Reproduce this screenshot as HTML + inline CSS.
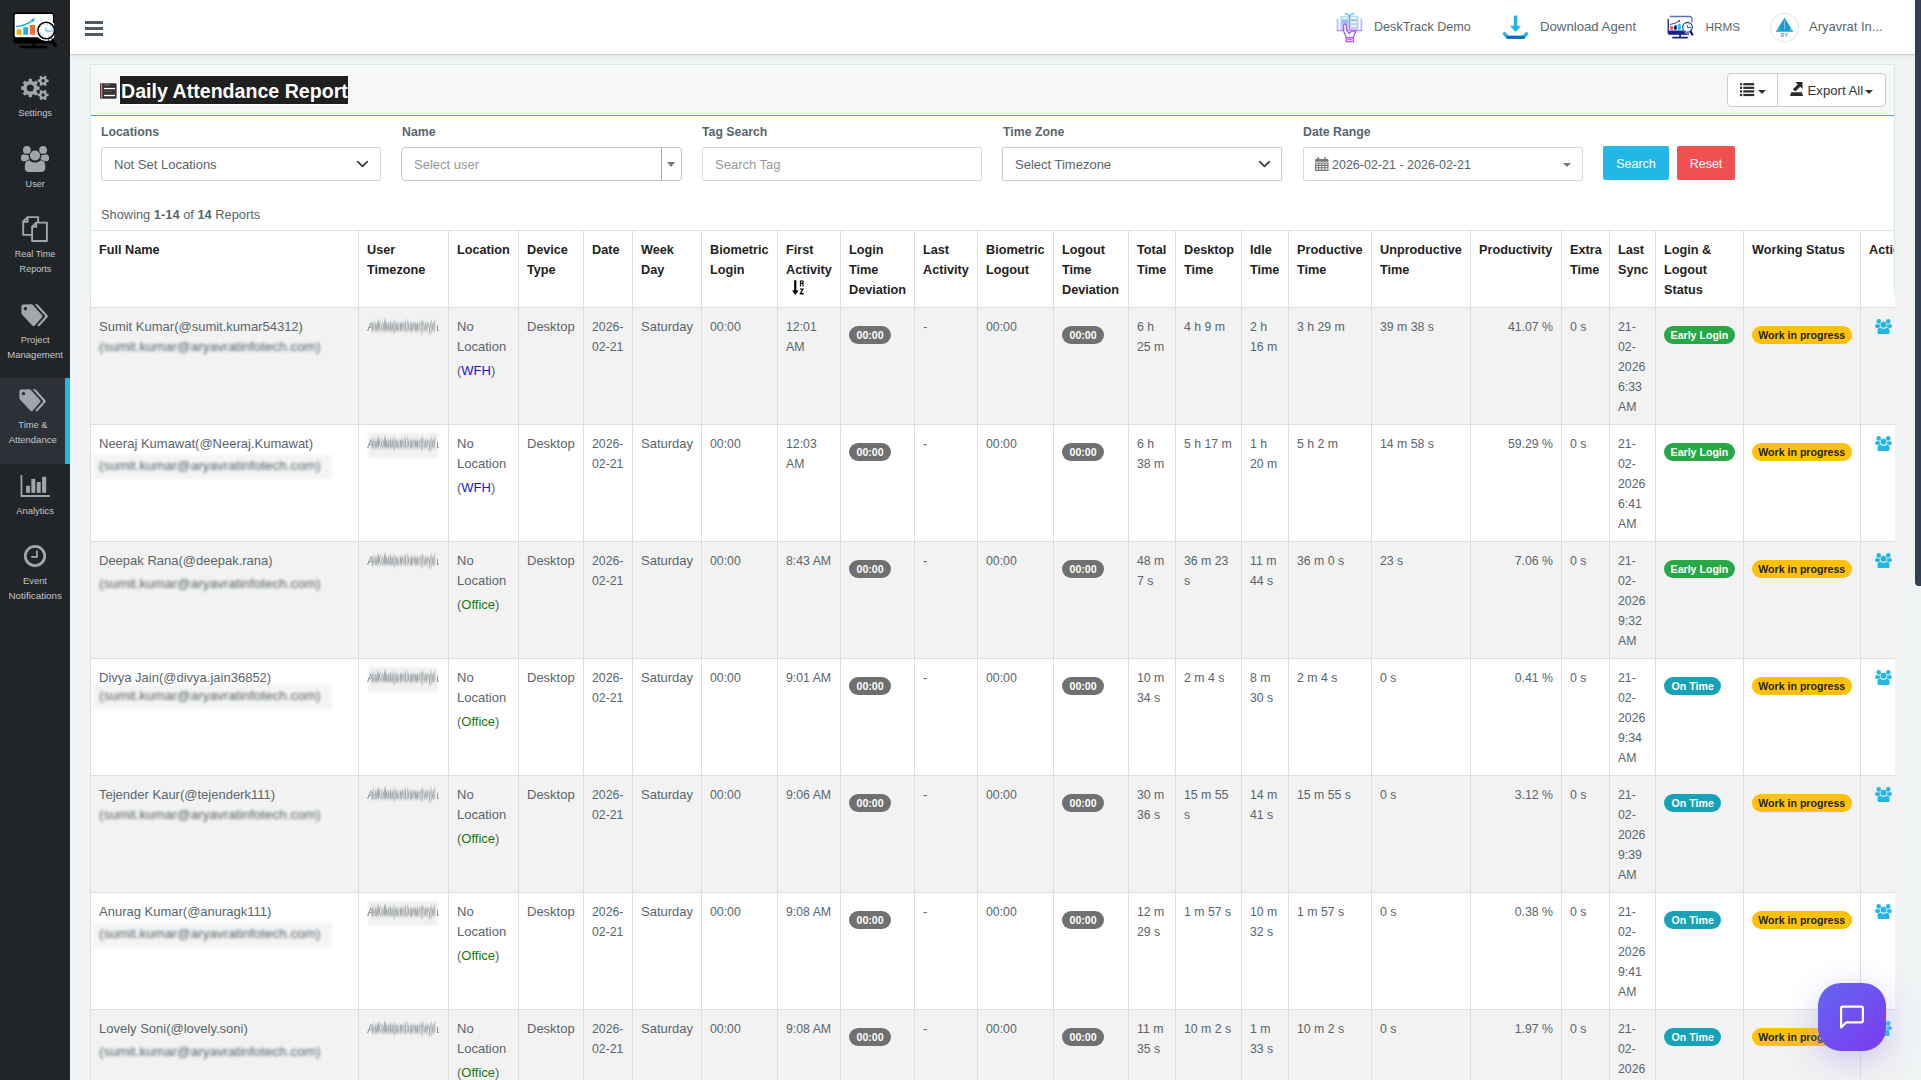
<!DOCTYPE html>
<html lang="en">
<head>
<meta charset="utf-8">
<title>Daily Attendance Report</title>
<style>
*{box-sizing:border-box;margin:0;padding:0}
html,body{width:1921px;height:1080px;overflow:hidden}
body{font-family:"Liberation Sans",sans-serif;font-size:13px;color:#58666e;background:#f0f3f4;position:relative;line-height:20px}
svg{display:block}
.abs{position:absolute}
/* sidebar */
#side{position:absolute;left:0;top:0;width:70px;height:1080px;background:#212529}
#side .it{position:absolute;left:0;width:70px;text-align:center;color:#c3c5ca;font-size:9.6px;line-height:15px}
#side .it svg{margin:0 auto}
#side .act{position:absolute;left:0;top:378px;width:70px;height:86px;background:#2c3037;border-right:5px solid #23b7e5}
/* header */
#top{position:absolute;left:70px;top:0;width:1845px;height:54px;background:#fff;box-shadow:0 1px 1px rgba(0,0,0,.12),0 2px 3px rgba(0,0,0,.05)}
#top .ti{position:absolute;top:17px;font-size:13px;line-height:20px;color:#58666e;white-space:nowrap}
/* scrollbar */
#sb{position:absolute;left:1915px;top:0;width:6px;height:1080px;background:#f0f3f4}
#sb i{position:absolute;left:0;top:0;width:8px;height:586px;background:#323f52;border-radius:0 0 0 4px}
/* panel */
#panel{position:absolute;left:90px;top:64px;width:1805px;height:1030px;background:#fff;border:1px solid #dee5e7;border-bottom:0;border-right:0;overflow:hidden}
#phead{position:absolute;left:0;top:0;width:1803px;height:51px;background:#f6f8f8;border-bottom:1px solid #23b7e5}
#title{position:absolute;left:29px;top:11px;height:28px;line-height:30px;background:#1f1f1f;color:#fff;font-weight:bold;font-size:19.6px;box-shadow:0 -1px 0 rgba(255,255,255,.95),0 1px 0 rgba(255,255,255,.95),-1px 0 0 rgba(255,255,255,.95);white-space:nowrap;padding:0 0 0 1px}
.lbl{position:absolute;top:57px;font-weight:bold;font-size:12.3px;line-height:20px;color:#58666e;white-space:nowrap}
.inp{position:absolute;top:82px;height:34px;width:280px;border:1px solid #cfdadd;border-radius:2px;background:#fff;font-size:13px;line-height:34px;padding-left:12px;color:#58666e;white-space:nowrap}
.ph{color:#999}
.btn{position:absolute;top:81px;height:34px;border-radius:2px;color:#fff;font-size:12.5px;line-height:36.5px;text-align:center}
#showing{position:absolute;left:10px;top:140px;font-size:12.85px;line-height:20px;white-space:nowrap}
#showing b{color:#58666e}
#bgrp{position:absolute;left:1636px;top:8px;width:159px;height:34px;border:1px solid #ccc;border-radius:4px;background:#fff}
#bgrp .b1{position:absolute;left:0;top:0;width:50px;height:32px;border-right:1px solid #ccc}
#bgrp .b2{position:absolute;left:50px;top:0;width:108px;height:33px}
#bgrp .b2 span{position:absolute;left:29.500px;top:7px;font-size:13.200px;line-height:20px;color:#333;white-space:nowrap}
.caret{position:absolute;width:0;height:0;border-style:solid;border-width:4px 4px 0;border-color:#333 transparent transparent}
#chat{position:absolute;left:1818px;top:983px;width:68px;height:68px;border-radius:23px;background:linear-gradient(135deg,#6366f1 0%,#7c3aed 100%);box-shadow:0 8px 32px rgba(99,90,241,.3),0 0 22px rgba(255,255,255,.3)}
#chat svg{position:absolute;left:21px;top:21px}
/* table */
table.dt{position:absolute;left:-1px;top:165px;border-collapse:separate;border-spacing:0;table-layout:fixed;width:1870px}
.dt th,.dt td{border-left:1px solid #ddd;border-top:1px solid #ddd;padding:9px 4px 7px 8px;vertical-align:top;text-align:left;font-size:13px;line-height:20px;white-space:nowrap;overflow:hidden}
.dt th{font-weight:bold;color:#222;font-size:12.7px;height:77px;border-top-color:#dee5e7;background:#fff}
.dt td{height:117px;color:#58666e}
.dt tr.odd td{background:#f2f2f2}
.dt tr.even td{background:#fff}
.dt td.n{font-size:12.3px}
.dt td.r{text-align:right;padding-right:8px}
.dt td.act{padding-left:13.500px;padding-top:10.500px}
.uic{fill:#23b7e5}
.bdg{display:inline-block;height:18px;line-height:18px;border-radius:9px;padding:0 7px;font-weight:bold;font-size:10.6px;color:#fff;margin-top:9px;vertical-align:top}
.bdg.s{background:#707070;padding:0 7.5px}
.bdg.g{background:#28a745;padding:0 6.600px}
.bdg.t{background:#17a2b8;padding:0 7.600px}
.bdg.y{background:#ffc107;color:#212529;padding:0 6.300px}
.loc{margin-top:4px}
.wfh{color:#1a10e8}
.off{color:#137a0b}
.em{height:20px;position:relative;white-space:nowrap}
.em span{display:inline-block;color:#48545b;filter:blur(1.450px);opacity:.95;font-size:13.5px;position:relative}
.em.bx:before{content:"";position:absolute;left:-7px;top:-1px;width:240px;height:24px;background:rgba(0,0,0,.045);filter:blur(1.5px)}
.tz{color:#7b858b;white-space:nowrap;position:relative;height:20px}
.tz .a1{position:absolute;left:0;top:0;width:4px;overflow:hidden;opacity:.85}
.tz .a2{position:absolute;left:69.500px;top:0;width:2.500px;overflow:hidden;direction:rtl;opacity:.85}
.tzb{position:absolute;left:3.800px;top:0px;width:200px;height:20px;transform-origin:0 50%;transform:scale(.328,1.12);filter:blur(1.35px);color:#4a545b;font-size:13px;font-weight:bold;letter-spacing:0;white-space:nowrap;opacity:.7}
.tz.bx:before{content:"";position:absolute;left:1px;top:-1px;width:70px;height:25px;background:rgba(0,0,0,.055);filter:blur(1.2px)}
.sorti{margin:0 0 0 6px}
</style>
</head>
<body>
<svg width="0" height="0" style="position:absolute">
<defs>
<symbol id="i-users" viewBox="20.6 145.8 28.8 26.6">
<circle cx="26.9" cy="149.9" r="3.9"/><circle cx="43.1" cy="149.9" r="3.9"/>
<path d="M20.9,158.3 C20.9,155.6 22,154.3 24,154.3 C25,155 26.2,155.2 28.6,154.9 C28.6,157 29,158.2 29.9,159.3 C28.3,159.4 26.9,160.1 26.1,161.2 H23.6 C21.9,161.2 20.9,160.3 20.9,158.300Z"/>
<path d="M49.1,158.3 C49.1,155.6 48,154.3 46,154.3 C45,155 43.8,155.2 41.4,154.9 C41.4,157 41,158.2 40.1,159.3 C41.7,159.4 43.1,160.1 43.9,161.2 H46.4 C48.1,161.2 49.1,160.300 49.1,158.300Z"/>
<circle cx="35" cy="155.5" r="5.1"/>
<path d="M24.8,168.3 V165.6 C24.8,162.4 26.6,160.300 29.3,160.2 C30.8,161.700 32.8,162.5 35,162.5 C37.2,162.5 39.2,161.700 40.7,160.2 C43.4,160.300 45.2,162.4 45.2,165.6 V168.3 C45.2,170.6 43.7,172.1 41.5,172.1 H28.5 C26.3,172.1 24.8,170.6 24.8,168.300Z"/>
</symbol>
<symbol id="i-sort" viewBox="0 0 14 16">
<path d="M2.300 .2h2.400v10.400h2.300l-3.500 4.300L0 10.600h2.300z"/>
<path d="M8.500 .4h3.900v6H8.500zM9.700 1.600v1.200h1.500V1.600zM9.700 4v2.400h1.500V4z" fill-rule="evenodd"/>
<path d="M8.500 8.500h4v1.100l-2.400 3.500h2.500v1.300H8.300v-1.100l2.400-3.500H8.500z"/>
</symbol>
</defs>
</svg>

<div id="side">
  <div class="act"></div>
  <svg class="abs" style="left:0;top:0" width="70" height="60" viewBox="0 0 70 60">
<rect x="13.2" y="12.6" width="41" height="31" rx="2.6" fill="#000"/>
<rect x="14.7" y="14" width="38.2" height="23.2" rx="1.4" fill="#fff"/>
<rect x="32.3" y="43" width="3" height="3.6" fill="#000"/>
<rect x="19.4" y="45.8" width="27.8" height="2.4" rx="1" fill="#000"/>
<rect x="16.6" y="29.3" width="5.1" height="5.6" fill="#e6b612"/>
<rect x="23.3" y="27.2" width="4.9" height="7.6" fill="#1eade0"/>
<rect x="29.8" y="24.9" width="5.3" height="9.8" fill="#f26c38"/>
<path d="M16.3,26.4 Q25,26 32.5,20.6" stroke="#1eade0" stroke-width="1.3" fill="none" stroke-linecap="round"/>
<path d="M30.8,18.9 L35,18.2 L33.4,22.3Z" fill="#1eade0"/>
<clipPath id="mc"><rect x="13.2" y="12.6" width="41" height="31"/></clipPath>
<circle cx="46.2" cy="30.5" r="10.500" fill="#fff" clip-path="url(#mc)"/>
<path d="M49.6,38.6 L55.3,45.2" stroke="#000" stroke-width="3.4" stroke-linecap="round"/>
<path d="M48.2,37.3 L51,40.2" stroke="#fff" stroke-width="2.2"/>
<circle cx="46.2" cy="30.5" r="8.3" fill="#fff" stroke="#000" stroke-width="1.5"/>
<circle cx="46.2" cy="30.5" r="6.3" fill="none" stroke="#3db9ee" stroke-width="1.2" stroke-dasharray="0.7 2.6"/>
<path d="M45.9,27.4 V31 H52.4" stroke="#2aaee6" stroke-width="1" fill="none"/>
</svg>
<svg class="abs" style="left:0;top:60px" width="70" height="50" viewBox="0 60 70 50"><path d="M32.04,95.09 L31.84,97.37 L28.76,97.37 L28.56,95.09 L26.59,94.27 L24.83,95.75 L22.65,93.57 L24.13,91.81 L23.31,89.84 L21.03,89.64 L21.03,86.56 L23.31,86.36 L24.13,84.39 L22.65,82.63 L24.83,80.45 L26.59,81.93 L28.56,81.11 L28.76,78.83 L31.84,78.83 L32.04,81.11 L34.01,81.93 L35.77,80.45 L37.95,82.63 L36.47,84.39 L37.29,86.36 L39.57,86.56 L39.57,89.64 L37.29,89.84 L36.47,91.81 L37.95,93.57 L35.77,95.75 L34.01,94.27Z M33.80,88.10 A3.5,3.5 0 1,0 26.80,88.10 A3.5,3.5 0 1,0 33.80,88.10Z M46.89,79.52 L48.57,79.58 L48.57,82.02 L46.89,82.08 L46.10,83.45 L46.89,84.92 L44.77,86.14 L43.89,84.72 L42.31,84.72 L41.43,86.14 L39.31,84.92 L40.10,83.45 L39.31,82.08 L37.63,82.02 L37.63,79.58 L39.31,79.52 L40.10,78.15 L39.31,76.68 L41.43,75.46 L42.31,76.88 L43.89,76.88 L44.77,75.46 L46.89,76.68 L46.10,78.15Z M44.80,80.80 A1.7,1.7 0 1,0 41.40,80.80 A1.7,1.7 0 1,0 44.80,80.80Z M46.89,93.72 L48.57,93.78 L48.57,96.22 L46.89,96.28 L46.10,97.65 L46.89,99.12 L44.77,100.34 L43.89,98.92 L42.31,98.92 L41.43,100.34 L39.31,99.12 L40.10,97.65 L39.31,96.28 L37.63,96.22 L37.63,93.78 L39.31,93.72 L40.10,92.35 L39.31,90.88 L41.43,89.66 L42.31,91.08 L43.89,91.08 L44.77,89.66 L46.89,90.88 L46.10,92.35Z M44.80,95.00 A1.7,1.7 0 1,0 41.40,95.00 A1.7,1.7 0 1,0 44.80,95.00Z" fill="#a3a5ad" fill-rule="evenodd"/></svg>
<svg class="abs" style="left:0;top:140px" width="70" height="40" viewBox="0 140 70 40" fill="#a3a5ad">
<circle cx="26.9" cy="149.9" r="3.9"/><circle cx="43.1" cy="149.9" r="3.9"/>
<path d="M20.9,158.3 C20.9,155.6 22,154.3 24,154.3 C25,155 26.2,155.2 28.6,154.9 C28.6,157 29,158.2 29.9,159.3 C28.3,159.4 26.9,160.1 26.1,161.2 H23.6 C21.9,161.2 20.9,160.3 20.9,158.300Z"/>
<path d="M49.1,158.3 C49.1,155.6 48,154.3 46,154.3 C45,155 43.8,155.2 41.4,154.9 C41.4,157 41,158.2 40.1,159.3 C41.7,159.4 43.1,160.1 43.9,161.2 H46.4 C48.1,161.2 49.1,160.300 49.1,158.300Z"/>
<circle cx="35" cy="155.5" r="5.1"/>
<path d="M24.8,168.3 V165.6 C24.8,162.4 26.6,160.300 29.3,160.2 C30.8,161.700 32.8,162.5 35,162.5 C37.2,162.5 39.2,161.700 40.7,160.2 C43.4,160.300 45.2,162.4 45.2,165.6 V168.3 C45.2,170.6 43.7,172.1 41.5,172.1 H28.5 C26.3,172.1 24.8,170.6 24.8,168.300Z"/>
</svg>
<svg class="abs" style="left:0;top:210px" width="70" height="36" viewBox="0 210 70 36" fill="none" stroke="#a3a5ad" stroke-width="1.9" stroke-linejoin="round">
<path d="M27.6,217.1 H38.2 V222.6 M33,234.9 H23.2 V221.5 L27.600,217.100 V221.700 H23.400"/>
<path d="M36.2,222.600 H46.9 V241 H32.1 V226.700 L36.200,222.600 V226.900 H32.300"/>
</svg>
<svg class="abs" style="left:21px;top:303.5px" width="29" height="24" viewBox="0 0 29 24" fill="#a3a5ad">
<path d="M0.4,1.9 Q0.4,0.4 1.9,0.4 L10.3,0.3 Q11.2,0.3 11.9,1 L21.2,11.3 Q22,12.300 21.2,13.200 L13.3,21.900 Q12.5,22.700 11.700,21.900 L1,10.400 Q0.4,9.700 0.4,8.800Z M4.500,2.900 A1.700,1.700 0 1,0 4.510,2.900Z" fill-rule="evenodd"/>
<path d="M13.700,0.300 H15.600 Q16.500,0.300 17.200,1 L26.500,11.300 Q27.300,12.300 26.500,13.200 L18.600,21.900 Q17.800,22.700 17,21.900 L16.300,21.200 L23.600,13.200 Q24.400,12.300 23.600,11.300Z"/>
</svg>
<svg class="abs" style="left:18.5px;top:388.8px" width="29" height="24" viewBox="0 0 29 24" fill="#a3a5ad">
<path d="M0.4,1.9 Q0.4,0.4 1.9,0.4 L10.3,0.3 Q11.2,0.3 11.9,1 L21.2,11.3 Q22,12.300 21.2,13.200 L13.3,21.900 Q12.5,22.700 11.700,21.900 L1,10.400 Q0.4,9.700 0.4,8.800Z M4.500,2.900 A1.700,1.700 0 1,0 4.510,2.900Z" fill-rule="evenodd"/>
<path d="M13.700,0.300 H15.600 Q16.500,0.300 17.200,1 L26.500,11.300 Q27.300,12.300 26.500,13.200 L18.600,21.900 Q17.800,22.700 17,21.900 L16.300,21.200 L23.600,13.200 Q24.400,12.300 23.600,11.300Z"/>
</svg>
<svg class="abs" style="left:0;top:470px" width="70" height="30" viewBox="0 470 70 30" fill="#a3a5ad">
<path d="M20.600,475 H22.300 V494.900 H49.700 V497 H20.600Z"/>
<rect x="26.100" y="485.800" width="3.800" height="7"/><rect x="31.300" y="478.900" width="4" height="13.900"/><rect x="36.800" y="482" width="3.900" height="10.800"/><rect x="42.100" y="476.800" width="4.100" height="16"/>
</svg>
<svg class="abs" style="left:0;top:540px" width="70" height="32" viewBox="0 540 70 32" fill="none" stroke="#a3a5ad">
<circle cx="35" cy="556" r="9.700" stroke-width="2.800"/>
<path d="M36.900,550.500 V556.900 H31.200" stroke-width="1.700"/>
</svg>
<div class="it" style="left:0.10000000000000142px;width:70px;top:105.1px;font-size:9.4px">Settings</div>
<div class="it" style="left:0.20000000000000284px;width:70px;top:176.6px;font-size:9.1px">User</div>
<div class="it" style="left:0.10000000000000142px;width:70px;top:246.6px;font-size:9.0px">Real Time</div>
<div class="it" style="left:0.5px;width:70px;top:261.6px;font-size:9.1px">Reports</div>
<div class="it" style="left:0.20000000000000284px;width:70px;top:332.6px;font-size:9.3px">Project</div>
<div class="it" style="left:0.10000000000000142px;width:70px;top:347.2px;font-size:9.55px">Management</div>
<div class="it" style="left:-2.1000000000000014px;width:70px;top:417.6px;font-size:9.3px">Time &amp;</div>
<div class="it" style="left:-2.299999999999997px;width:70px;top:432.1px;font-size:9.5px">Attendance</div>
<div class="it" style="left:0.10000000000000142px;width:70px;top:503.1px;font-size:9.4px">Analytics</div>
<div class="it" style="left:0.0px;width:70px;top:573.6px;font-size:9.3px">Event</div>
<div class="it" style="left:0.20000000000000284px;width:70px;top:588.0px;font-size:9.8px">Notifications</div>
</div>

<div id="top">
  <div class="abs" style="left:15px;top:21px;width:18px;height:3px;background:#4d5a63;box-shadow:0 6px 0 #4d5a63,0 12px 0 #4d5a63"></div>
<svg class="abs" style="left:1264px;top:10px" width="32" height="34" viewBox="1334 10 32 34" fill="none">
<defs><linearGradient id="gb" x1="0" y1="0" x2="0" y2="1"><stop offset="0" stop-color="#53c7ea"/><stop offset=".55" stop-color="#a3b0f3"/><stop offset="1" stop-color="#b04dfb"/></linearGradient>
<linearGradient id="gc" gradientUnits="userSpaceOnUse" x1="0" y1="14" x2="0" y2="31"><stop offset="0" stop-color="#7fd0ee"/><stop offset="1" stop-color="#b79af6"/></linearGradient></defs>
<path d="M1344.600,13.600 Q1348,13.300 1349.400,16.200 Q1350.800,13.300 1354.200,13.600" stroke="#4fc6e8" stroke-width="1.200"/>
<rect x="1340.300" y="15.800" width="18.400" height="14.400" fill="url(#gc)" opacity=".62"/>
<path d="M1337.600,18.500 V30.300 M1361.400,18.500 V30.300" stroke="url(#gc)" stroke-width="1.900" opacity=".75"/>
<path d="M1337,30.600 H1362" stroke="#b58cf7" stroke-width="1.300"/>
<path d="M1349.400,15.500 V29.500" stroke="#5fb4ea" stroke-width="1.100"/>
<path d="M1342.300,18 H1347.600 M1351.200,18 H1356.600 M1351.200,22.300 H1356.600 M1351.200,26.300 H1356.600" stroke="#fff" stroke-width="1.500" opacity=".85"/>
<path d="M1342.300,20.800 H1347.600 M1351.200,20.300 H1356.600 M1342.300,22.600 H1347.600" stroke="#4aa6e8" stroke-width=".8" opacity=".9"/>
<path d="M1343.600,31 V25.600 Q1343.600,24.100 1345,24.100 Q1346.400,24.100 1346.400,25.600 V30 L1349.200,33.600 L1351.800,31 H1356 L1353.200,37.600 H1346.300 L1343.600,31Z" fill="#fff" stroke="#9a63f6" stroke-width="1.300" stroke-linejoin="round"/>
<rect x="1346.200" y="37.800" width="7.200" height="3.800" fill="#fff" stroke="#b04dfb" stroke-width="1.300"/>
<path d="M1347.500,39.700 H1352" stroke="#b04dfb" stroke-width="1"/>
</svg>
<div class="ti" style="left:1304px;font-size:12.6px">DeskTrack Demo</div>
<svg class="abs" style="left:1430px;top:12px" width="32" height="30" viewBox="1500 12 32 30">
<rect x="1513.800" y="15.500" width="3.500" height="12" rx=".8" fill="#1fb3e6"/>
<path d="M1510.700,26.200 H1520.300 L1515.500,31.600Z" fill="#1fb3e6" stroke="#1fb3e6" stroke-width=".8" stroke-linejoin="round"/>
<path d="M1504.500,33.700 L1507.700,37.400 H1523.300 L1526.500,33.700" fill="none" stroke="#1fb3e6" stroke-width="3.300" stroke-linecap="round" stroke-linejoin="round"/>
<rect x="1506.600" y="35.800" width="18" height="3" fill="#0b6bc2"/>
</svg>
<div class="ti" style="left:1470px;font-size:13.2px">Download Agent</div>
<svg class="abs" style="left:1594px;top:12px" width="34" height="30" viewBox="1664 12 34 30">
<path d="M1669.800,16.500 H1690 Q1691.800,16.700 1691.900,18.600 V22.500" fill="none" stroke="#5577b8" stroke-width="1.300"/>
<path d="M1668.200,19 V32.200 Q1668.200,34.200 1670.200,34.200 H1689 " fill="none" stroke="#1c2483" stroke-width="1.300"/>
<path d="M1668.200,30.400 H1683 L1686.500,34.200 H1670.200 Q1668.200,34.200 1668.200,32.200Z" fill="#1c2483"/>
<rect x="1679.200" y="34" width="1.700" height="3.200" fill="#1c2483"/>
<rect x="1672" y="36.800" width="16" height="1.600" rx=".8" fill="#1c2483"/>
<rect x="1670.200" y="25.900" width="3" height="4.200" rx="1.400" fill="#f4506a"/>
<rect x="1674" y="25.200" width="3" height="4.800" rx="1.400" fill="#1c2483"/>
<rect x="1677.700" y="23.800" width="3.200" height="6.100" rx="1.500" fill="#22c3ea"/>
<path d="M1670.200,24.400 Q1675,24 1678.700,21.300" stroke="#1c2483" stroke-width=".9" fill="none"/>
<path d="M1678,20.300 L1680.200,20 L1679.400,22.300Z" fill="#1c2483"/>
<circle cx="1687.500" cy="27.300" r="4.900" fill="#fff" stroke="#1f3f96" stroke-width="1.100"/>
<circle cx="1687.500" cy="27.300" r="3.500" fill="none" stroke="#5a7fc6" stroke-width=".9" stroke-dasharray=".5 1.330"/>
<path d="M1687.400,25 V27.500 H1690.800" stroke="#1f3f96" stroke-width=".8" fill="none"/>
<path d="M1690.600,31.600 L1692.300,34.500" stroke="#1c2483" stroke-width="2.400" stroke-linecap="round"/>
</svg>
<div class="ti" style="left:1635.500px;font-size:11.8px">HRMS</div>
<svg class="abs" style="left:1698px;top:11px" width="34" height="33" viewBox="1768 11 34 33">
<circle cx="1784.600" cy="27.500" r="14.200" fill="#fff" stroke="#e2e2e2" stroke-width="1"/>
<path d="M1784.500,17.700 L1793.300,31.800 H1775.700Z" fill="#179dd3"/>
<path d="M1784.500,20.500 V29.500" stroke="#8fd0ee" stroke-width="1" opacity=".8"/>
<path d="M1777,30.300 L1778.300,29.200 L1779.300,30.300 M1790,30.300 L1791,29.200 L1792.200,30.300" stroke="#d9f0fa" stroke-width=".7" fill="none"/>
<text x="1784.600" y="36.800" font-family="Liberation Sans, sans-serif" font-weight="bold" font-size="5" fill="#2aa7dc" text-anchor="middle" letter-spacing=".8">RY</text>
</svg>
<div class="ti" style="left:1739px">Aryavrat In...</div>
</div>

<div id="panel">
  <div class="abs" style="left:1803px;top:0;width:1px;height:230px;background:#dee5e7;z-index:3"></div>
  <div id="phead">
    <svg class="abs" style="left:7px;top:16px" width="20" height="20" viewBox="97 80 20 20">
      <rect x="98.6" y="81.6" width="17.600" height="16.800" rx="1.600" fill="#fff"/>
      <rect x="99.200" y="82.200" width="16.400" height="15.600" rx="1.300" fill="#333"/>
      <rect x="100.100" y="82.600" width="1.300" height="14.600" fill="#93aabd"/>
      <rect x="99.200" y="82.600" width=".8" height="14.800" fill="#6b2a2a"/>
      <rect x="101.500" y="82.600" width=".7" height="14.600" fill="#6b2a2a"/>
      <rect x="103" y="86.900" width="11" height="1.300" fill="#fff"/>
      <rect x="103" y="93.800" width="11" height="1.400" fill="#fff"/>
      <rect x="103.200" y="83.300" width="5.300" height="1.200" fill="#777"/>
      <rect x="103.200" y="90" width="8" height="1" fill="#5a5a5a"/>
    </svg>
    <div id="title">Daily Attendance Report</div>
    <div id="bgrp">
      <div class="b1">
        <svg class="abs" style="left:12px;top:9px" width="15" height="14" viewBox="0 0 15 14" fill="#2b2b2b">
          <rect x="0" y=".1" width="2.100" height="2.200"/><rect x="3.300" y=".1" width="10.900" height="2.200"/>
          <rect x="0" y="3.700" width="2.100" height="2.200"/><rect x="3.300" y="3.700" width="10.900" height="2.200"/>
          <rect x="0" y="7.300" width="2.100" height="2.200"/><rect x="3.300" y="7.300" width="10.900" height="2.200"/>
          <rect x="0" y="10.900" width="2.100" height="2.200"/><rect x="3.300" y="10.900" width="10.900" height="2.200"/>
        </svg>
        <i class="caret" style="left:30px;top:16px"></i>
      </div>
      <div class="b2">
        <svg class="abs" style="left:12px;top:8px" width="14" height="15" viewBox="0 0 14 15" fill="#2b2b2b">
          <path d="M1.200,10.300 H11.800 L13.200,14 H0Z"/>
          <path d="M5.300,0 H12.500 V7 L10.200,4.800 L5.300,9.500 L2.900,7.200 L7.700,2.400Z"/>
        </svg>
        <span>Export All</span>
        <i class="caret" style="left:87px;top:16px"></i>
      </div>
    </div>
  </div>
  <div class="lbl" style="left:10px">Locations</div>
  <div class="lbl" style="left:311px">Name</div>
  <div class="lbl" style="left:611px">Tag Search</div>
  <div class="lbl" style="left:912px">Time Zone</div>
  <div class="lbl" style="left:1212px">Date Range</div>
  <div class="inp" style="left:10px">Not Set Locations<svg class="abs chev" style="left:254px;top:12px" width="13" height="9" viewBox="0 0 13 9"><path d="M1.700,1.700 L6.500,6.400 L11.300,1.700" fill="none" stroke="#343a40" stroke-width="1.700" stroke-linecap="round" stroke-linejoin="round"/></svg></div>
  <div class="inp" style="left:310px;width:281px;border-radius:4px;border-color:#c4c4c4"><span class="ph">Select user</span><i class="abs" style="left:259px;top:0;width:1px;height:32px;background:#aaa"></i><i class="caret" style="left:265px;top:14px;border-width:5px 4px 0;border-top-color:#777"></i></div>
  <div class="inp" style="left:611px"><span class="ph">Search Tag</span></div>
  <div class="inp" style="left:911px;border-color:#ccc">Select Timezone<svg class="abs chev" style="left:255px;top:12px" width="13" height="9" viewBox="0 0 13 9"><path d="M1.700,1.700 L6.500,6.400 L11.300,1.700" fill="none" stroke="#343a40" stroke-width="1.700" stroke-linecap="round" stroke-linejoin="round"/></svg></div>
  <div class="inp" style="left:1212px;padding-left:28px;font-size:12.5px;line-height:34.6px"><svg class="abs" style="left:11px;top:9px" width="13.500" height="14.200" viewBox="0 0 14 15" preserveAspectRatio="none" fill="#777">
      <path d="M0,3.300 Q0,2 1.300,2 H12.700 Q14,2 14,3.300 V5 H0Z"/><rect x="2.600" y=".3" width="1.800" height="2.500" rx=".5"/><rect x="9.600" y=".3" width="1.800" height="2.500" rx=".5"/>
      <path d="M0,5.800 H14 V14.700 H0Z M1.200,6.800 v1.500 h2 v-1.500z M4.400,6.800 v1.500 h2 v-1.500z M7.600,6.800 v1.500 h2 v-1.500z M10.800,6.800 v1.500 h2 v-1.500z M1.200,9.400 v1.500 h2 v-1.500z M4.400,9.400 v1.500 h2 v-1.500z M7.600,9.400 v1.500 h2 v-1.500z M10.800,9.400 v1.500 h2 v-1.500z M1.200,12 v1.500 h2 v-1.500z M4.400,12 v1.500 h2 v-1.500z M7.600,12 v1.500 h2 v-1.500z M10.800,12 v1.500 h2 v-1.500z" fill-rule="evenodd"/>
    </svg>2026-02-21 - 2026-02-21<i class="caret" style="left:259px;top:15px;border-top-color:#777"></i></div>
  <div class="btn" style="left:1512px;width:66px;background:#23b7e5">Search</div>
  <div class="btn" style="left:1586px;width:58px;background:#f05050">Reset</div>
  <div id="showing">Showing <b>1-14</b> of <b>14</b> Reports</div>
  <table class="dt"><colgroup>
<col style="width:268px">
<col style="width:90px">
<col style="width:70px">
<col style="width:65px">
<col style="width:49px">
<col style="width:69px">
<col style="width:76px">
<col style="width:63px">
<col style="width:74px">
<col style="width:63px">
<col style="width:76px">
<col style="width:75px">
<col style="width:47px">
<col style="width:66px">
<col style="width:47px">
<col style="width:83px">
<col style="width:99px">
<col style="width:91px">
<col style="width:48px">
<col style="width:46px">
<col style="width:88px">
<col style="width:117px">
<col style="width:100px">
</colgroup><thead><tr>
<th>Full Name</th>
<th>User<br>Timezone</th>
<th>Location</th>
<th>Device<br>Type</th>
<th>Date</th>
<th>Week<br>Day</th>
<th>Biometric<br>Login</th>
<th>First<br>Activity<br><svg class="sorti" viewBox="0 0 14 16" width="13" height="16" preserveAspectRatio="none"><use href="#i-sort"/></svg></th>
<th>Login<br>Time<br>Deviation</th>
<th>Last<br>Activity</th>
<th>Biometric<br>Logout</th>
<th>Logout<br>Time<br>Deviation</th>
<th>Total<br>Time</th>
<th>Desktop<br>Time</th>
<th>Idle<br>Time</th>
<th>Productive<br>Time</th>
<th>Unproductive<br>Time</th>
<th>Productivity</th>
<th>Extra<br>Time</th>
<th>Last<br>Sync</th>
<th>Login &amp;<br>Logout<br>Status</th>
<th>Working Status</th>
<th>Action</th>
</tr></thead><tbody>
<tr class="odd">
<td><div class="nm">Sumit Kumar(@sumit.kumar54312)</div><div class="em" style="margin-top:0px"><span>(sumit.kumar@aryavratinfotech.com)</span></div></td>
<td><div class="tz"><span class="a1">A</span><span class="tzb">sia/Kolkata|sumit.kumar@ary|xl</span><span class="a2">a</span></div></td>
<td>No<br>Location<div class="loc">(<span class="wfh">WFH</span>)</div></td>
<td>Desktop</td><td class="n">2026-<br>02-21</td><td>Saturday</td><td class="n">00:00</td>
<td class="n">12:01<br>AM</td><td><span class="bdg s">00:00</span></td><td>-</td><td class="n">00:00</td><td><span class="bdg s">00:00</span></td>
<td class="n">6 h<br>25 m</td><td class="n">4 h 9 m</td><td class="n">2 h<br>16 m</td><td class="n">3 h 29 m</td><td class="n">39 m 38 s</td><td class="r n">41.07 %</td><td class="n">0 s</td>
<td class="n">21-<br>02-<br>2026<br>6:33<br>AM</td><td><span class="bdg g">Early Login</span></td><td><span class="bdg y">Work in progress</span></td>
<td class="act"><svg class="uic" width="17" height="15.700"><use href="#i-users"/></svg></td></tr>
<tr class="even">
<td><div class="nm">Neeraj Kumawat(@Neeraj.Kumawat)</div><div class="em bx" style="margin-top:2px"><span>(sumit.kumar@aryavratinfotech.com)</span></div></td>
<td><div class="tz bx"><span class="a1">A</span><span class="tzb">sia/Kolkata|sumit.kumar@ary|xl</span><span class="a2">a</span></div></td>
<td>No<br>Location<div class="loc">(<span class="wfh">WFH</span>)</div></td>
<td>Desktop</td><td class="n">2026-<br>02-21</td><td>Saturday</td><td class="n">00:00</td>
<td class="n">12:03<br>AM</td><td><span class="bdg s">00:00</span></td><td>-</td><td class="n">00:00</td><td><span class="bdg s">00:00</span></td>
<td class="n">6 h<br>38 m</td><td class="n">5 h 17 m</td><td class="n">1 h<br>20 m</td><td class="n">5 h 2 m</td><td class="n">14 m 58 s</td><td class="r n">59.29 %</td><td class="n">0 s</td>
<td class="n">21-<br>02-<br>2026<br>6:41<br>AM</td><td><span class="bdg g">Early Login</span></td><td><span class="bdg y">Work in progress</span></td>
<td class="act"><svg class="uic" width="17" height="15.700"><use href="#i-users"/></svg></td></tr>
<tr class="odd">
<td><div class="nm">Deepak Rana(@deepak.rana)</div><div class="em" style="margin-top:3px"><span>(sumit.kumar@aryavratinfotech.com)</span></div></td>
<td><div class="tz"><span class="a1">A</span><span class="tzb">sia/Kolkata|sumit.kumar@ary|xl</span><span class="a2">a</span></div></td>
<td>No<br>Location<div class="loc">(<span class="off">Office</span>)</div></td>
<td>Desktop</td><td class="n">2026-<br>02-21</td><td>Saturday</td><td class="n">00:00</td>
<td class="n">8:43 AM</td><td><span class="bdg s">00:00</span></td><td>-</td><td class="n">00:00</td><td><span class="bdg s">00:00</span></td>
<td class="n">48 m<br>7 s</td><td class="n">36 m 23<br>s</td><td class="n">11 m<br>44 s</td><td class="n">36 m 0 s</td><td class="n">23 s</td><td class="r n">7.06 %</td><td class="n">0 s</td>
<td class="n">21-<br>02-<br>2026<br>9:32<br>AM</td><td><span class="bdg g">Early Login</span></td><td><span class="bdg y">Work in progress</span></td>
<td class="act"><svg class="uic" width="17" height="15.700"><use href="#i-users"/></svg></td></tr>
<tr class="even">
<td><div class="nm">Divya Jain(@divya.jain36852)</div><div class="em bx" style="margin-top:-2px"><span>(sumit.kumar@aryavratinfotech.com)</span></div></td>
<td><div class="tz bx"><span class="a1">A</span><span class="tzb">sia/Kolkata|sumit.kumar@ary|xl</span><span class="a2">a</span></div></td>
<td>No<br>Location<div class="loc">(<span class="off">Office</span>)</div></td>
<td>Desktop</td><td class="n">2026-<br>02-21</td><td>Saturday</td><td class="n">00:00</td>
<td class="n">9:01 AM</td><td><span class="bdg s">00:00</span></td><td>-</td><td class="n">00:00</td><td><span class="bdg s">00:00</span></td>
<td class="n">10 m<br>34 s</td><td class="n">2 m 4 s</td><td class="n">8 m<br>30 s</td><td class="n">2 m 4 s</td><td class="n">0 s</td><td class="r n">0.41 %</td><td class="n">0 s</td>
<td class="n">21-<br>02-<br>2026<br>9:34<br>AM</td><td><span class="bdg t">On Time</span></td><td><span class="bdg y">Work in progress</span></td>
<td class="act"><svg class="uic" width="17" height="15.700"><use href="#i-users"/></svg></td></tr>
<tr class="odd">
<td><div class="nm">Tejender Kaur(@tejenderk111)</div><div class="em" style="margin-top:0px"><span>(sumit.kumar@aryavratinfotech.com)</span></div></td>
<td><div class="tz"><span class="a1">A</span><span class="tzb">sia/Kolkata|sumit.kumar@ary|xl</span><span class="a2">a</span></div></td>
<td>No<br>Location<div class="loc">(<span class="off">Office</span>)</div></td>
<td>Desktop</td><td class="n">2026-<br>02-21</td><td>Saturday</td><td class="n">00:00</td>
<td class="n">9:06 AM</td><td><span class="bdg s">00:00</span></td><td>-</td><td class="n">00:00</td><td><span class="bdg s">00:00</span></td>
<td class="n">30 m<br>36 s</td><td class="n">15 m 55<br>s</td><td class="n">14 m<br>41 s</td><td class="n">15 m 55 s</td><td class="n">0 s</td><td class="r n">3.12 %</td><td class="n">0 s</td>
<td class="n">21-<br>02-<br>2026<br>9:39<br>AM</td><td><span class="bdg t">On Time</span></td><td><span class="bdg y">Work in progress</span></td>
<td class="act"><svg class="uic" width="17" height="15.700"><use href="#i-users"/></svg></td></tr>
<tr class="even">
<td><div class="nm">Anurag Kumar(@anuragk111)</div><div class="em bx" style="margin-top:2px"><span>(sumit.kumar@aryavratinfotech.com)</span></div></td>
<td><div class="tz bx"><span class="a1">A</span><span class="tzb">sia/Kolkata|sumit.kumar@ary|xl</span><span class="a2">a</span></div></td>
<td>No<br>Location<div class="loc">(<span class="off">Office</span>)</div></td>
<td>Desktop</td><td class="n">2026-<br>02-21</td><td>Saturday</td><td class="n">00:00</td>
<td class="n">9:08 AM</td><td><span class="bdg s">00:00</span></td><td>-</td><td class="n">00:00</td><td><span class="bdg s">00:00</span></td>
<td class="n">12 m<br>29 s</td><td class="n">1 m 57 s</td><td class="n">10 m<br>32 s</td><td class="n">1 m 57 s</td><td class="n">0 s</td><td class="r n">0.38 %</td><td class="n">0 s</td>
<td class="n">21-<br>02-<br>2026<br>9:41<br>AM</td><td><span class="bdg t">On Time</span></td><td><span class="bdg y">Work in progress</span></td>
<td class="act"><svg class="uic" width="17" height="15.700"><use href="#i-users"/></svg></td></tr>
<tr class="odd">
<td><div class="nm">Lovely Soni(@lovely.soni)</div><div class="em" style="margin-top:3px"><span>(sumit.kumar@aryavratinfotech.com)</span></div></td>
<td><div class="tz"><span class="a1">A</span><span class="tzb">sia/Kolkata|sumit.kumar@ary|xl</span><span class="a2">a</span></div></td>
<td>No<br>Location<div class="loc">(<span class="off">Office</span>)</div></td>
<td>Desktop</td><td class="n">2026-<br>02-21</td><td>Saturday</td><td class="n">00:00</td>
<td class="n">9:08 AM</td><td><span class="bdg s">00:00</span></td><td>-</td><td class="n">00:00</td><td><span class="bdg s">00:00</span></td>
<td class="n">11 m<br>35 s</td><td class="n">10 m 2 s</td><td class="n">1 m<br>33 s</td><td class="n">10 m 2 s</td><td class="n">0 s</td><td class="r n">1.97 %</td><td class="n">0 s</td>
<td class="n">21-<br>02-<br>2026<br>9:43<br>AM</td><td><span class="bdg t">On Time</span></td><td><span class="bdg y">Work in progress</span></td>
<td class="act"><svg class="uic" width="17" height="15.700"><use href="#i-users"/></svg></td></tr>
</tbody></table>
</div>

<div id="chat"><svg width="26" height="26" viewBox="0 0 26 26" fill="none" stroke="#fff" stroke-width="2.200" stroke-linejoin="round" stroke-linecap="round"><path d="M3.400,2.600 H22.600 Q23.900,2.600 23.900,3.900 V17 Q23.900,18.300 22.600,18.300 H7.400 L2.100,23.500 V3.900 Q2.100,2.600 3.400,2.600Z"/></svg></div>
<div class="abs" style="left:90px;top:295px;width:1px;height:785px;background:#ddd"></div>
<div id="sb"><i></i></div>
</body>
</html>
